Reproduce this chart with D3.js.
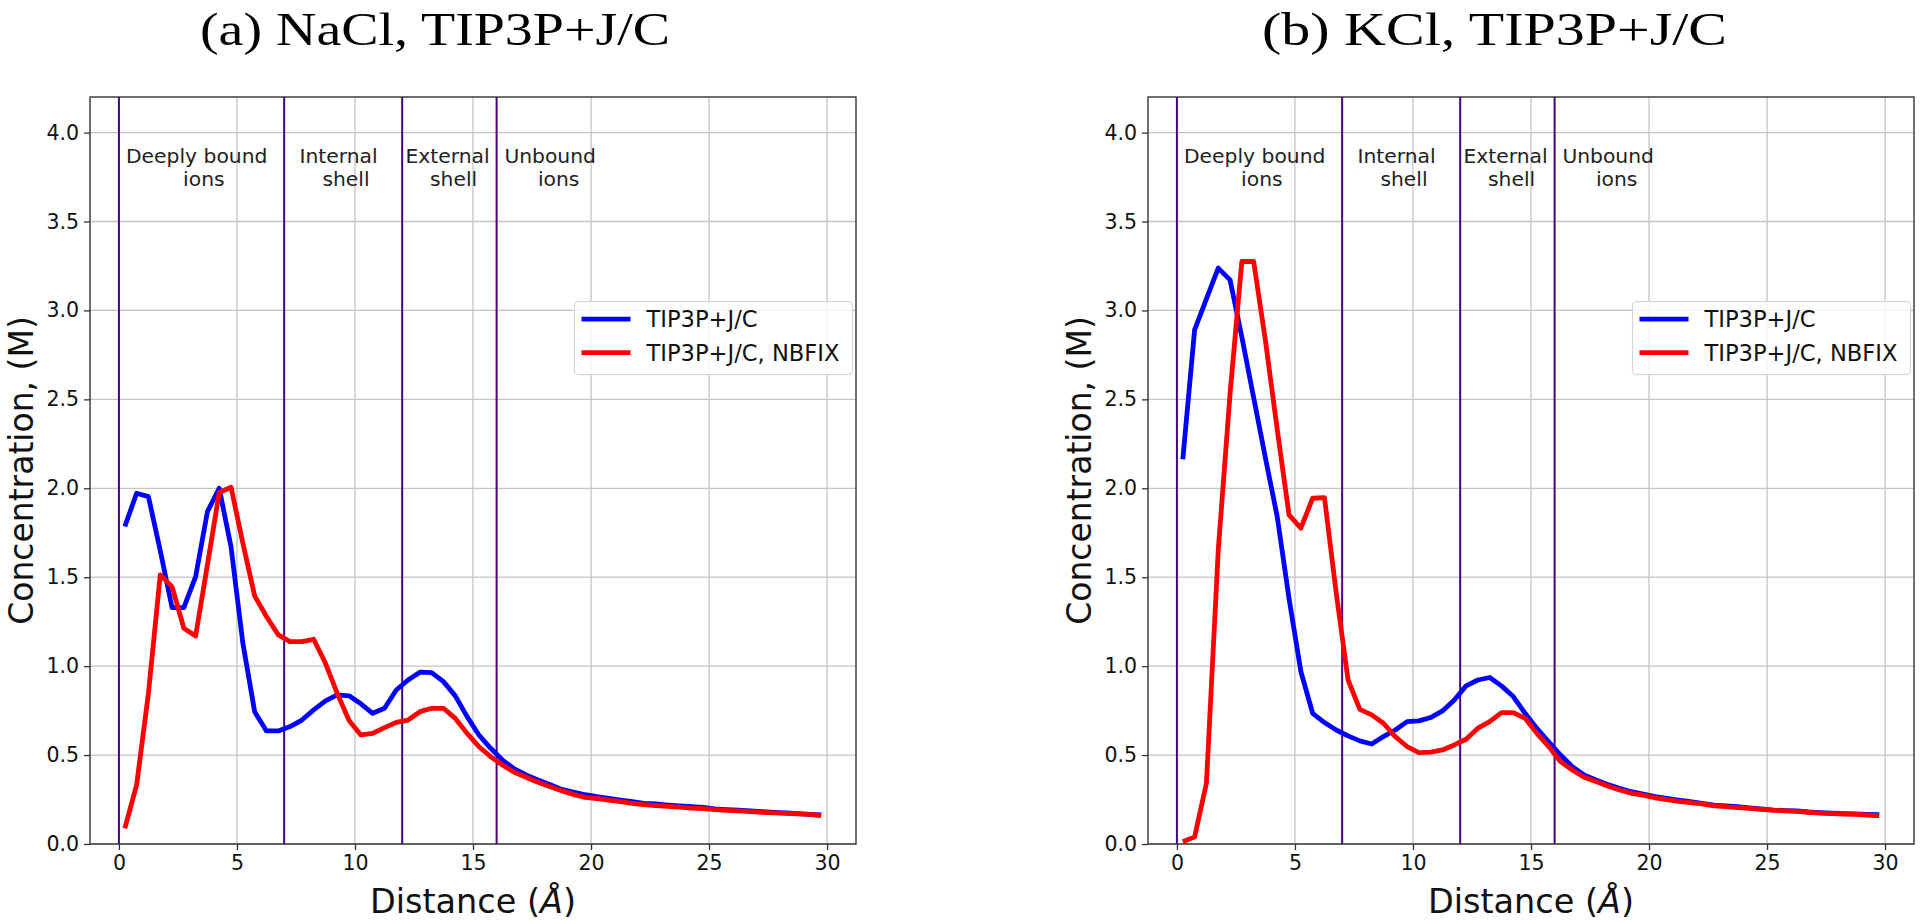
<!DOCTYPE html>
<html>
<head>
<meta charset="utf-8">
<script src="https://cdn.jsdelivr.net/npm/d3@7/dist/d3.min.js"></script>
<style>
  html, body { margin: 0; padding: 0; background: #fff; }
  svg { display: block; }
</style>
</head>
<body>
<svg id="chart" width="1920" height="924"></svg>
<script>
// ---------------- DATA ----------------
const distance = [0.25,0.75,1.25,1.75,2.25,2.75,3.25,3.75,4.25,4.75,5.25,5.75,6.25,6.75,7.25,7.75,8.25,8.75,9.25,9.75,
  10.25,10.75,11.25,11.75,12.25,12.75,13.25,13.75,14.25,14.75,15.25,15.75,16.25,16.75,17.25,17.75,18.25,18.75,19.25,19.75,
  20.25,20.75,21.25,21.75,22.25,22.75,23.25,23.75,24.25,24.75,25.25,25.75,26.25,26.75,27.25,27.75,28.25,28.75,29.25,29.75];

// (a) NaCl
const naclTip3p = [1.785,1.972,1.953,1.65,1.329,1.329,1.503,1.869,2.0,1.67,1.13,0.744,0.636,0.636,0.66,0.697,0.754,0.805,0.838,0.833,
  0.788,0.735,0.763,0.866,0.922,0.966,0.964,0.913,0.833,0.716,0.613,0.538,0.472,0.422,0.388,0.360,0.335,0.307,0.292,0.277,
  0.266,0.257,0.247,0.238,0.229,0.225,0.219,0.214,0.210,0.206,0.197,0.193,0.190,0.186,0.182,0.178,0.175,0.171,0.167,0.163];
const naclNbfix = [0.088,0.332,0.847,1.513,1.447,1.213,1.170,1.57,1.976,2.006,1.691,1.395,1.279,1.176,1.138,1.138,1.151,1.016,0.847,0.694,
  0.613,0.622,0.654,0.684,0.697,0.744,0.763,0.763,0.706,0.622,0.547,0.491,0.444,0.403,0.375,0.347,0.323,0.300,0.279,0.262,
  0.255,0.247,0.238,0.229,0.221,0.216,0.212,0.207,0.202,0.199,0.193,0.189,0.186,0.182,0.178,0.175,0.172,0.169,0.166,0.160];

// (b) KCl
const kclTip3p = [2.163,2.891,3.065,3.238,3.172,2.85,2.51,2.17,1.84,1.38,0.97,0.735,0.683,0.641,0.608,0.580,0.562,0.604,0.641,0.688,
  0.692,0.711,0.748,0.810,0.889,0.922,0.936,0.889,0.829,0.735,0.650,0.575,0.500,0.435,0.388,0.360,0.335,0.313,0.294,0.280,
  0.266,0.257,0.247,0.238,0.229,0.219,0.214,0.210,0.203,0.197,0.191,0.188,0.186,0.180,0.176,0.173,0.171,0.169,0.167,0.165];
const kclNbfix = [0.013,0.04,0.341,1.65,2.53,3.275,3.275,2.83,2.33,1.85,1.776,1.944,1.948,1.41,0.922,0.757,0.726,0.679,0.604,0.548,
  0.514,0.516,0.529,0.557,0.589,0.651,0.688,0.739,0.739,0.707,0.622,0.548,0.463,0.416,0.375,0.351,0.326,0.304,0.285,0.275,
  0.260,0.250,0.240,0.233,0.226,0.215,0.210,0.205,0.200,0.195,0.190,0.186,0.183,0.178,0.174,0.171,0.168,0.166,0.163,0.158];

const panelTitles = ["(a) NaCl, TIP3P+J/C", "(b) KCl, TIP3P+J/C"];
const seriesNames = ["TIP3P+J/C", "TIP3P+J/C, NBFIX"];
const regionBounds = [0, 7, 12, 16];
const regionLabels = [["Deeply bound", "ions"], ["Internal", "shell"], ["External", "shell"], ["Unbound", "ions"]];
const xTicks = [0, 5, 10, 15, 20, 25, 30];
const yTicks = [0, 0.5, 1.0, 1.5, 2.0, 2.5, 3.0, 3.5, 4.0];

// ---------------- LAYOUT ----------------
const svg = d3.select("#chart");
const panels = [
  { left: 90, right: 856, title: panelTitles[0], titleX: [200, 670], series: [naclTip3p, naclNbfix] },
  { left: 1148, right: 1914, title: panelTitles[1], titleX: [1262, 1727], series: [kclTip3p, kclNbfix] }
];
const plotTop = 97, plotBottom = 844;
const colors = ["#0000ff", "#ff0000"];
const sans = "'DejaVu Sans', sans-serif";
// line-start offsets (data units, relative to region boundary) for the two label lines
const labelOffsets = [[0.3, 2.72], [0.65, 1.62], [0.14, 1.18], [0.33, 1.75]];

panels.forEach(p => {
  const x = d3.scaleLinear().domain([-1.225, 31.225]).range([p.left, p.right]);
  const y = d3.scaleLinear().domain([0, 4.2]).range([plotBottom, plotTop]);
  const g = svg.append("g");

  // grid
  g.append("g").selectAll("line").data(xTicks).join("line")
    .attr("x1", d => x(d)).attr("x2", d => x(d)).attr("y1", plotTop).attr("y2", plotBottom)
    .attr("stroke", "#c4c4c4").attr("stroke-width", 1.3);
  g.append("g").selectAll("line").data(yTicks).join("line")
    .attr("x1", p.left).attr("x2", p.right).attr("y1", d => y(d)).attr("y2", d => y(d))
    .attr("stroke", "#c4c4c4").attr("stroke-width", 1.3);

  // region boundaries
  g.append("g").selectAll("line").data(regionBounds).join("line")
    .attr("x1", d => x(d)).attr("x2", d => x(d)).attr("y1", plotTop).attr("y2", plotBottom)
    .attr("stroke", "#4b0082").attr("stroke-width", 2);

  // region labels
  regionLabels.forEach((lines, i) => {
    lines.forEach((t, j) => {
      g.append("text")
        .attr("x", x(regionBounds[i] + labelOffsets[i][j]))
        .attr("y", y(3.83) + j * 23)
        .attr("font-family", sans).attr("font-size", 20.3).attr("fill", "#222")
        .text(t);
    });
  });

  // lines
  const line = d3.line().x((d, i) => x(distance[i])).y(d => y(d));
  p.series.forEach((s, k) => {
    g.append("path").datum(s).attr("d", line)
      .attr("fill", "none").attr("stroke", colors[k]).attr("stroke-width", 4.8)
      .attr("stroke-linejoin", "round").attr("stroke-linecap", "butt");
  });

  // axes
  const xAxis = d3.axisBottom(x).tickValues(xTicks).tickFormat(d3.format("d")).tickSize(6).tickPadding(5);
  const yAxis = d3.axisLeft(y).tickValues(yTicks).tickFormat(d3.format(".1f")).tickSize(6).tickPadding(5);
  const gx = g.append("g").attr("transform", `translate(0,${plotBottom})`).call(xAxis);
  const gy = g.append("g").attr("transform", `translate(${p.left},0)`).call(yAxis);
  [gx, gy].forEach(a => {
    a.select(".domain").remove();
    a.selectAll(".tick line").attr("stroke", "#333").attr("stroke-width", 1.3);
    a.selectAll(".tick text").attr("font-family", sans).attr("font-size", 20.5).attr("fill", "#111");
  });

  // frame
  g.append("rect").attr("x", p.left).attr("y", plotTop)
    .attr("width", p.right - p.left).attr("height", plotBottom - plotTop)
    .attr("fill", "none").attr("stroke", "#333").attr("stroke-width", 1.4);

  // legend
  const lx = x(19.3), ly = y(3.05);
  const lg = g.append("g");
  lg.append("rect").attr("x", lx).attr("y", ly).attr("width", 278).attr("height", 73)
    .attr("rx", 4).attr("fill", "#fff").attr("fill-opacity", 0.8)
    .attr("stroke", "#d6d6d6").attr("stroke-width", 1.2);
  seriesNames.forEach((n, k) => {
    const yy = ly + 17.5 + k * 33.5;
    lg.append("line").attr("x1", lx + 7).attr("x2", lx + 56).attr("y1", yy).attr("y2", yy)
      .attr("stroke", colors[k]).attr("stroke-width", 4.8);
    lg.append("text").attr("x", lx + 72).attr("y", yy + 8)
      .attr("font-family", sans).attr("font-size", 22.6).attr("fill", "#111").text(n);
  });

  // axis labels
  const xl = g.append("text").attr("x", (p.left + p.right) / 2).attr("y", 913)
    .attr("text-anchor", "middle").attr("font-family", sans).attr("font-size", 33.5).attr("fill", "#111");
  xl.append("tspan").text("Distance (");
  xl.append("tspan").attr("font-style", "italic").text("Å");
  xl.append("tspan").text(")");

  g.append("text")
    .attr("transform", `translate(${p.left - 57},${(plotTop + plotBottom) / 2}) rotate(-90)`)
    .attr("text-anchor", "middle").attr("font-family", sans).attr("font-size", 33).attr("fill", "#111")
    .text("Concentration, (M)");

  // title
  svg.append("text").attr("x", p.titleX[0]).attr("y", 45)
    .attr("font-family", "'Liberation Serif', serif").attr("font-size", 47).attr("fill", "#000")
    .attr("textLength", p.titleX[1] - p.titleX[0]).attr("lengthAdjust", "spacingAndGlyphs")
    .text(p.title);
});
</script>
</body>
</html>
